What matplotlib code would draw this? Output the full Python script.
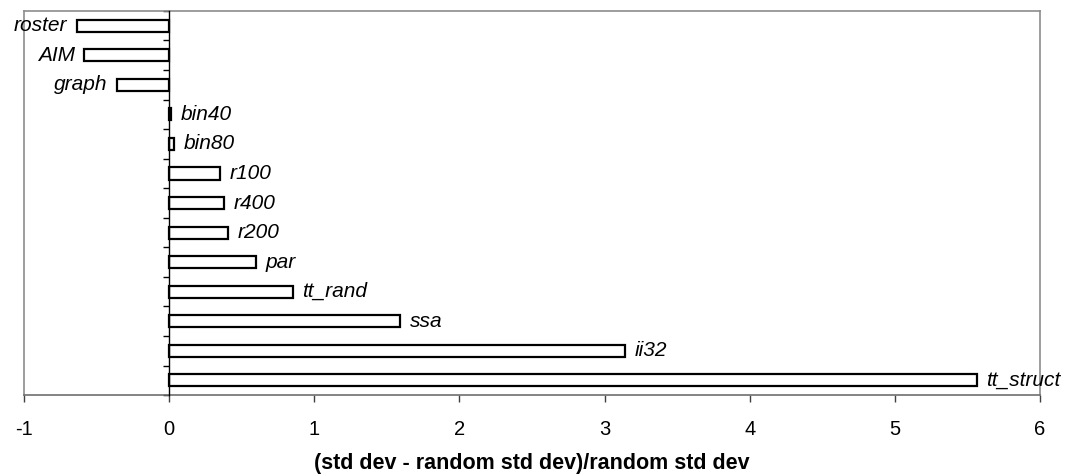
import matplotlib
matplotlib.use("Agg")
import matplotlib.pyplot as plt
from matplotlib.lines import Line2D

plt.rcParams['font.family'] = ['Liberation Sans', 'DejaVu Sans']

# Benchmarks, top to bottom
names = ["roster", "AIM", "graph", "bin40", "bin80", "r100", "r400", "r200",
         "par", "tt_rand", "ssa", "ii32", "tt_struct"]
values = [-0.635, -0.585, -0.36, 0.01, 0.03, 0.35, 0.377, 0.407,
          0.598, 0.852, 1.59, 3.14, 5.565]
xticks = [-1, 0, 1, 2, 3, 4, 5, 6]
xlabel = "(std dev - random std dev)/random std dev"

fig = plt.figure(figsize=(10.73, 4.76), dpi=100)
ax = fig.add_axes([0.0224, 0.170, 0.9468, 0.807])

n = len(names)
ypos = list(range(n - 1, -1, -1))
ax.barh(ypos, values, height=0.41, color="white", edgecolor="black",
        linewidth=1.6, zorder=3)

for y, v, name in zip(ypos, values, names):
    if v >= 0:
        ax.annotate(name, (v, y), xytext=(7, 0), textcoords="offset points",
                    ha="left", va="center", fontsize=15, style="italic")
    else:
        ax.annotate(name, (v, y), xytext=(-7, 0), textcoords="offset points",
                    ha="right", va="center", fontsize=15, style="italic")

ax.set_xlim(-1, 6)
ax.set_ylim(-0.5, n - 0.5)

# category axis sits at zero, ticks mark the category boundaries
ax.spines["left"].set_position(("data", 0))
ax.spines["left"].set_color("black")
ax.spines["left"].set_linewidth(1.0)
ax.spines["left"].set_zorder(4)
ax.set_yticks([i - 0.5 for i in range(n + 1)])
ax.set_yticklabels([])
ax.tick_params(axis="y", direction="out", length=4, width=1.0, color="black")

for s in ("top", "right"):
    ax.spines[s].set_color("#8c8c8c")
    ax.spines[s].set_linewidth(1.2)
ax.spines["bottom"].set_color("#6e6e6e")
ax.spines["bottom"].set_linewidth(1.2)
# outer frame on the left edge of the plot area
ax.add_line(Line2D([0, 0], [0, 1], transform=ax.transAxes, color="#8c8c8c",
                   linewidth=1.2, clip_on=False))

ax.set_xticks(xticks)
ax.set_xticklabels([str(t) for t in xticks], fontsize=14.5)
ax.tick_params(axis="x", direction="out", length=5, width=1.0,
               color="#404040", pad=13)
ax.set_xlabel(xlabel, fontsize=15.5, fontweight="bold", labelpad=10)

fig.savefig("out.png", dpi=100)
